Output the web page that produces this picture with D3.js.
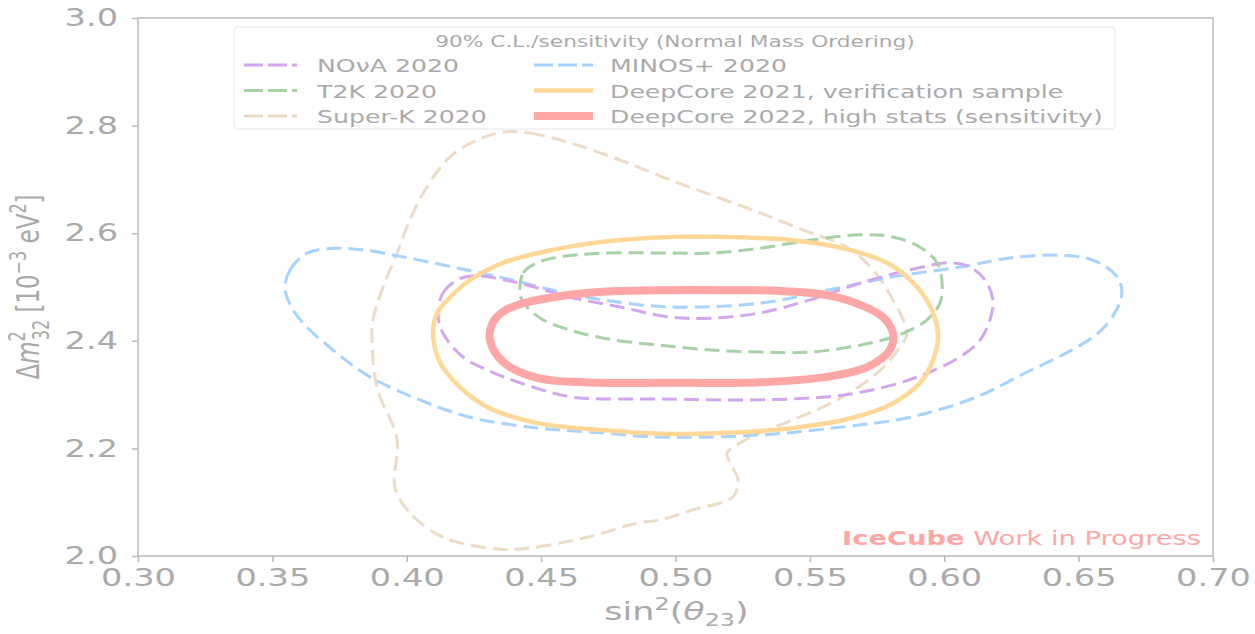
<!DOCTYPE html>
<html>
<head>
<meta charset="utf-8">
<script src="https://cdn.jsdelivr.net/npm/d3@7"></script>
<style>
  body { margin: 0; background: #fff; }
  text { font-family: "DejaVu Sans", sans-serif; }
</style>
</head>
<body>
<div id="my_dataviz"></div>
<script>
// Set the dimensions and margins of the graph
var margin = { top: 18, right: 43, bottom: 78, left: 138 },
  width = 1075,
  height = 538;

// The text in the picture is stretched sideways
var stretch = 1.4;

// Tick values
const xTicks = [0.30, 0.35, 0.40, 0.45, 0.50, 0.55, 0.60, 0.65, 0.70];
const yTicks = [2.0, 2.2, 2.4, 2.6, 2.8, 3.0];

// Contours, [sin^2(theta23), dm2_32]
const superK = [[0.4358, 2.788], [0.4459, 2.786], [0.4607, 2.768], [0.4793, 2.736], [0.4980, 2.699],
  [0.5166, 2.665], [0.5314, 2.638], [0.5474, 2.606], [0.5638, 2.574], [0.5735, 2.532], [0.5809, 2.476],
  [0.5861, 2.414], [0.5835, 2.388], [0.5750, 2.340], [0.5601, 2.290], [0.5437, 2.253], [0.5314, 2.229],
  [0.5240, 2.210], [0.5192, 2.191], [0.5203, 2.173], [0.5233, 2.141], [0.5214, 2.110], [0.5065, 2.086],
  [0.4942, 2.067], [0.4857, 2.061], [0.4671, 2.035], [0.4459, 2.015], [0.4336, 2.013], [0.4135, 2.035],
  [0.4012, 2.080], [0.3956, 2.128], [0.3964, 2.216], [0.3889, 2.314], [0.3871, 2.401], [0.3874, 2.439],
  [0.3912, 2.500], [0.3964, 2.563], [0.4012, 2.625], [0.4075, 2.686], [0.4161, 2.742], [0.4261, 2.773]];

const minos = [[0.3547, 2.500], [0.3566, 2.532], [0.3629, 2.563], [0.3740, 2.572], [0.3837, 2.569],
  [0.3986, 2.556], [0.4172, 2.537], [0.4358, 2.517], [0.4544, 2.494], [0.4730, 2.476], [0.4980, 2.463],
  [0.5314, 2.470], [0.5564, 2.494], [0.5809, 2.519], [0.6059, 2.537], [0.6245, 2.554], [0.6431, 2.559],
  [0.6553, 2.550], [0.6643, 2.519], [0.6661, 2.489], [0.6635, 2.452], [0.6572, 2.414], [0.6460, 2.379],
  [0.6308, 2.342], [0.6122, 2.296], [0.5873, 2.258], [0.5623, 2.240], [0.5314, 2.225], [0.4942, 2.221],
  [0.4730, 2.229], [0.4485, 2.238], [0.4235, 2.258], [0.4049, 2.290], [0.3863, 2.333], [0.3740, 2.377],
  [0.3614, 2.433], [0.3566, 2.467]];

const nova = [[0.4116, 2.452], [0.4135, 2.489], [0.4187, 2.513], [0.4250, 2.521], [0.4421, 2.507],
  [0.4607, 2.481], [0.4793, 2.463], [0.4980, 2.444], [0.5128, 2.442], [0.5314, 2.452], [0.5500, 2.476],
  [0.5687, 2.507], [0.5873, 2.532], [0.6021, 2.545], [0.6096, 2.537], [0.6152, 2.513], [0.6181, 2.476],
  [0.6170, 2.439], [0.6133, 2.401], [0.6059, 2.370], [0.5936, 2.340], [0.5809, 2.318], [0.5623, 2.299],
  [0.5437, 2.292], [0.5192, 2.290], [0.4942, 2.292], [0.4730, 2.292], [0.4607, 2.296], [0.4421, 2.322],
  [0.4299, 2.346], [0.4209, 2.370], [0.4135, 2.414]];

const t2k = [[0.4421, 2.500], [0.4433, 2.526], [0.4485, 2.545], [0.4570, 2.556], [0.4730, 2.563],
  [0.4980, 2.563], [0.5128, 2.563], [0.5314, 2.572], [0.5500, 2.587], [0.5687, 2.597], [0.5809, 2.593],
  [0.5910, 2.574], [0.5973, 2.545], [0.5992, 2.507], [0.5984, 2.470], [0.5936, 2.439], [0.5873, 2.420],
  [0.5809, 2.407], [0.5687, 2.392], [0.5500, 2.379], [0.5314, 2.379], [0.5128, 2.383], [0.4942, 2.392],
  [0.4857, 2.396], [0.4730, 2.405], [0.4607, 2.420], [0.4507, 2.439], [0.4447, 2.463], [0.4421, 2.485]];

const dc2021 = [[0.4098, 2.414], [0.4113, 2.452], [0.4161, 2.481], [0.4235, 2.513], [0.4358, 2.545],
  [0.4544, 2.569], [0.4730, 2.584], [0.4980, 2.593], [0.5192, 2.593], [0.5437, 2.587], [0.5623, 2.572],
  [0.5787, 2.545], [0.5899, 2.500], [0.5958, 2.452], [0.5977, 2.407], [0.5958, 2.364], [0.5910, 2.322],
  [0.5809, 2.284], [0.5660, 2.257], [0.5437, 2.238], [0.5192, 2.229], [0.4942, 2.227], [0.4730, 2.234],
  [0.4485, 2.247], [0.4299, 2.277], [0.4198, 2.314], [0.4124, 2.359]];

const dc2022 = [[0.4310, 2.401], [0.4321, 2.435], [0.4358, 2.454], [0.4421, 2.468], [0.4544, 2.481],
  [0.4730, 2.491], [0.4980, 2.494], [0.5192, 2.494], [0.5378, 2.493], [0.5564, 2.485], [0.5687, 2.467],
  [0.5772, 2.444], [0.5809, 2.414], [0.5798, 2.383], [0.5713, 2.351], [0.5564, 2.333], [0.5314, 2.323],
  [0.4942, 2.322], [0.4730, 2.322], [0.4485, 2.331], [0.4358, 2.361]];

// Series: name, points, colour, width, dashed
const series = [
  { name: "NOνA 2020", pts: nova, color: "#d3a6f0", lw: 3, dash: true },
  { name: "T2K 2020", pts: t2k, color: "#a6d2a6", lw: 3, dash: true },
  { name: "Super-K 2020", pts: superK, color: "#ecdcc6", lw: 3, dash: true },
  { name: "MINOS+ 2020", pts: minos, color: "#a6d3ff", lw: 3, dash: true },
  { name: "DeepCore 2021, verification sample", pts: dc2021, color: "#ffd898", lw: 4.5, dash: false },
  { name: "DeepCore 2022, high stats (sensitivity)", pts: dc2022, color: "#ffa6a6", lw: 8, dash: false }
];
const drawOrder = [2, 3, 0, 1, 4, 5];

var grey = "#aaaaaa";

var svg = d3.select("#my_dataviz")
  .append("svg")
  .attr("width", 1255)
  .attr("height", 634);

var g = svg.append("g")
  .attr("transform", "translate(" + margin.left + "," + margin.top + ")");

// Scales
var x = d3.scaleLinear().domain([0.30, 0.70]).range([0, width]);
var y = d3.scaleLinear().domain([2.0, 3.0]).range([height, 0]);

// Contours
var line = d3.line()
  .x(function (d) { return x(d[0]); })
  .y(function (d) { return y(d[1]); })
  .curve(d3.curveCatmullRomClosed);

drawOrder.forEach(function (i) {
  var s = series[i];
  g.append("path")
    .datum(s.pts)
    .attr("d", line)
    .attr("fill", "none")
    .attr("stroke", s.color)
    .attr("stroke-width", s.lw)
    .attr("stroke-dasharray", s.dash ? "15,7" : null)
    .attr("stroke-linejoin", "round");
});

// Axes
var xAxis = g.append("g")
  .attr("transform", "translate(0," + height + ")")
  .call(d3.axisBottom(x).tickValues(xTicks).tickFormat(d3.format(".2f")).tickSize(6).tickPadding(7));

var yAxis = g.append("g")
  .call(d3.axisLeft(y).tickValues(yTicks).tickFormat(d3.format(".1f")).tickSize(6).tickPadding(8));

[xAxis, yAxis].forEach(function (ax) {
  ax.select(".domain").remove();
  ax.selectAll("line").attr("stroke", "#bbbbbb").attr("stroke-width", 1.5);
  ax.selectAll("text").attr("fill", grey).style("font-size", "24px");
});
xAxis.selectAll("text").attr("transform", "scale(" + stretch + ",1)");
yAxis.selectAll("text").attr("x", -20 / stretch).attr("transform", "scale(" + stretch + ",1)");

// Frame
g.append("rect")
  .attr("width", width)
  .attr("height", height)
  .attr("fill", "none")
  .attr("stroke", "#bbbbbb")
  .attr("stroke-width", 1.5);

// Axis labels
var xl = g.append("text")
  .attr("transform", "translate(" + (width / 2 + 1) + "," + (height + 64) + ") scale(" + stretch + ",1)")
  .attr("text-anchor", "middle")
  .attr("fill", grey)
  .style("font-size", "25px");
xl.append("tspan").text("sin");
xl.append("tspan").attr("dy", -10).style("font-size", "17px").text("2");
xl.append("tspan").attr("dy", 10).text("(");
xl.append("tspan").style("font-style", "italic").text("θ");
xl.append("tspan").attr("dy", 6).style("font-size", "17px").text("23");
xl.append("tspan").attr("dy", -6).text(")");

var yl = g.append("text")
  .attr("transform", "translate(" + (-99) + "," + (height / 2) + ") rotate(-90) scale(1," + stretch + ")")
  .attr("text-anchor", "middle")
  .attr("fill", grey)
  .style("font-size", "23px");
yl.append("tspan").text("Δ");
yl.append("tspan").style("font-style", "italic").text("m");
yl.append("tspan").attr("dy", -10).style("font-size", "16px").text("2");
yl.append("tspan").attr("dx", -9).attr("dy", 17).style("font-size", "16px").text("32");
yl.append("tspan").attr("dy", -7).text(" [10");
yl.append("tspan").attr("dy", -9).style("font-size", "16px").text("−3");
yl.append("tspan").attr("dy", 9).text(" eV");
yl.append("tspan").attr("dy", -9).style("font-size", "16px").text("2");
yl.append("tspan").attr("dy", 9).text("]");

// Watermark
var wm = g.append("text")
  .attr("transform", "translate(" + (width - 12) + "," + (height - 11) + ") scale(" + stretch + ",1)")
  .attr("text-anchor", "end")
  .attr("fill", "#ffa6a6")
  .style("font-size", "19.5px");
wm.append("tspan").style("font-weight", "bold").text("IceCube");
wm.append("tspan").text(" Work in Progress");

// Legend
var leg = svg.append("g");
leg.append("rect")
  .attr("x", 234).attr("y", 27)
  .attr("width", 881).attr("height", 102)
  .attr("rx", 4)
  .attr("fill", "#fff")
  .attr("fill-opacity", 0.8)
  .attr("stroke", "#e6e6e6");

leg.append("text")
  .attr("transform", "translate(675,47) scale(" + stretch + ",1)")
  .attr("text-anchor", "middle")
  .attr("fill", grey)
  .style("font-size", "15.5px")
  .text("90% C.L./sensitivity (Normal Mass Ordering)");

series.forEach(function (s, i) {
  var col = Math.floor(i / 3), row = i % 3;
  var x0 = col === 0 ? 244 : 534,
    x1 = col === 0 ? 297 : 593,
    tx = col === 0 ? 317 : 610,
    ly = 65 + row * 25.5;
  leg.append("line")
    .attr("x1", x0).attr("x2", x1)
    .attr("y1", ly).attr("y2", ly)
    .attr("stroke", s.color)
    .attr("stroke-width", s.dash ? 3 : s.lw)
    .attr("stroke-dasharray", s.dash ? "19,5" : null);
  leg.append("text")
    .attr("transform", "translate(" + tx + "," + (ly + 7) + ") scale(" + stretch + ",1)")
    .attr("fill", grey)
    .style("font-size", "18px")
    .text(s.name);
});
</script>
</body>
</html>
